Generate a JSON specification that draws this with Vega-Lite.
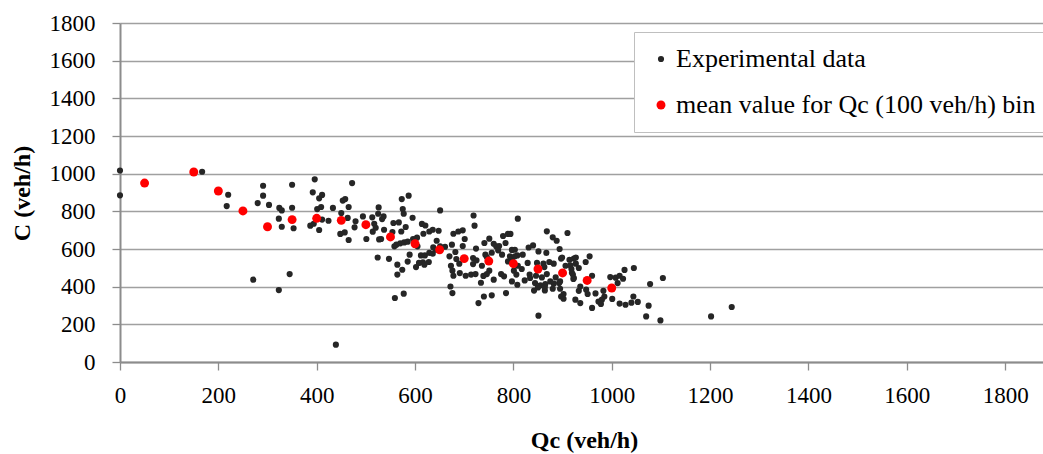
{
"$schema": "https://vega.github.io/schema/vega-lite/v6.json",
"autosize": {"type": "none"},
"padding": {"left": 120, "top": 23, "right": 0, "bottom": 92},
"width": 923,
"height": 339,
"background": "white",
"config": {"view": {"stroke": null}, "font": "Liberation Serif"},
"data": {"values": [
{"q":0,"c":1017,"s":"e"},{"q":0,"c":885,"s":"e"},{"q":167,"c":1010,"s":"e"},{"q":220,"c":888,"s":"e"},{"q":217,"c":828,"s":"e"},{"q":291,"c":936,"s":"e"},{"q":291,"c":883,"s":"e"},{"q":280,"c":844,"s":"e"},{"q":303,"c":834,"s":"e"},{"q":324,"c":818,"s":"e"},{"q":329,"c":805,"s":"e"},{"q":323,"c":761,"s":"e"},{"q":329,"c":718,"s":"e"},{"q":350,"c":941,"s":"e"},{"q":350,"c":819,"s":"e"},{"q":353,"c":710,"s":"e"},{"q":271,"c":437,"s":"e"},{"q":323,"c":382,"s":"e"},{"q":345,"c":467,"s":"e"},{"q":396,"c":970,"s":"e"},{"q":392,"c":901,"s":"e"},{"q":405,"c":869,"s":"e"},{"q":411,"c":887,"s":"e"},{"q":401,"c":812,"s":"e"},{"q":409,"c":823,"s":"e"},{"q":411,"c":756,"s":"e"},{"q":387,"c":724,"s":"e"},{"q":394,"c":734,"s":"e"},{"q":405,"c":701,"s":"e"},{"q":424,"c":750,"s":"e"},
{"q":433,"c":818,"s":"e"},{"q":450,"c":791,"s":"e"},{"q":453,"c":857,"s":"e"},{"q":458,"c":865,"s":"e"},{"q":465,"c":823,"s":"e"},{"q":448,"c":680,"s":"e"},{"q":457,"c":688,"s":"e"},{"q":465,"c":648,"s":"e"},{"q":472,"c":950,"s":"e"},{"q":463,"c":765,"s":"e"},{"q":477,"c":715,"s":"e"},{"q":479,"c":747,"s":"e"},{"q":494,"c":773,"s":"e"},{"q":501,"c":653,"s":"e"},{"q":513,"c":768,"s":"e"},{"q":517,"c":734,"s":"e"},{"q":514,"c":692,"s":"e"},{"q":520,"c":713,"s":"e"},{"q":526,"c":821,"s":"e"},{"q":525,"c":787,"s":"e"},{"q":533,"c":759,"s":"e"},{"q":536,"c":773,"s":"e"},{"q":527,"c":651,"s":"e"},{"q":524,"c":555,"s":"e"},{"q":531,"c":653,"s":"e"},{"q":537,"c":702,"s":"e"},{"q":547,"c":548,"s":"e"},{"q":554,"c":690,"s":"e"},{"q":558,"c":614,"s":"e"},{"q":556,"c":738,"s":"e"},{"q":567,"c":741,"s":"e"},{"q":573,"c":865,"s":"e"},{"q":587,"c":883,"s":"e"},{"q":575,"c":812,"s":"e"},{"q":577,"c":787,"s":"e"},{"q":572,"c":693,"s":"e"},{"q":581,"c":717,"s":"e"},{"q":564,"c":517,"s":"e"},{"q":564,"c":464,"s":"e"},{"q":574,"c":490,"s":"e"},{"q":559,"c":340,"s":"e"},{"q":577,"c":363,"s":"e"},{"q":562,"c":623,"s":"e"},{"q":570,"c":630,"s":"e"},{"q":578,"c":635,"s":"e"},{"q":585,"c":639,"s":"e"},{"q":585,"c":533,"s":"e"},{"q":589,"c":570,"s":"e"},{"q":595,"c":766,"s":"e"},{"q":596,"c":653,"s":"e"},{"q":604,"c":660,"s":"e"},{"q":605,"c":614,"s":"e"},{"q":602,"c":504,"s":"e"},{"q":608,"c":526,"s":"e"},{"q":439,"c":92,"s":"e"},
{"q":614,"c":733,"s":"e"},{"q":621,"c":725,"s":"e"},{"q":617,"c":681,"s":"e"},{"q":629,"c":693,"s":"e"},{"q":636,"c":702,"s":"e"},{"q":648,"c":697,"s":"e"},{"q":612,"c":566,"s":"e"},{"q":620,"c":566,"s":"e"},{"q":629,"c":579,"s":"e"},{"q":637,"c":609,"s":"e"},{"q":644,"c":644,"s":"e"},{"q":616,"c":529,"s":"e"},{"q":619,"c":517,"s":"e"},{"q":628,"c":531,"s":"e"},{"q":651,"c":805,"s":"e"},{"q":661,"c":612,"s":"e"},{"q":675,"c":623,"s":"e"},{"q":678,"c":681,"s":"e"},{"q":688,"c":693,"s":"e"},{"q":697,"c":699,"s":"e"},{"q":701,"c":653,"s":"e"},{"q":697,"c":616,"s":"e"},{"q":682,"c":584,"s":"e"},{"q":684,"c":547,"s":"e"},{"q":670,"c":561,"s":"e"},{"q":673,"c":511,"s":"e"},{"q":676,"c":485,"s":"e"},{"q":678,"c":458,"s":"e"},{"q":691,"c":472,"s":"e"},{"q":690,"c":522,"s":"e"},{"q":703,"c":458,"s":"e"},{"q":714,"c":464,"s":"e"},{"q":723,"c":467,"s":"e"},{"q":718,"c":552,"s":"e"},{"q":718,"c":520,"s":"e"},{"q":725,"c":540,"s":"e"},{"q":736,"c":511,"s":"e"},{"q":743,"c":570,"s":"e"},{"q":741,"c":632,"s":"e"},{"q":751,"c":655,"s":"e"},{"q":756,"c":580,"s":"e"},{"q":760,"c":628,"s":"e"},{"q":771,"c":616,"s":"e"},{"q":777,"c":570,"s":"e"},{"q":779,"c":669,"s":"e"},{"q":789,"c":680,"s":"e"},{"q":789,"c":534,"s":"e"},{"q":781,"c":455,"s":"e"},{"q":775,"c":467,"s":"e"},{"q":760,"c":437,"s":"e"},{"q":751,"c":485,"s":"e"},{"q":746,"c":467,"s":"e"},{"q":739,"c":457,"s":"e"},{"q":734,"c":421,"s":"e"},{"q":729,"c":313,"s":"e"},{"q":740,"c":348,"s":"e"},{"q":756,"c":354,"s":"e"},{"q":785,"c":366,"s":"e"},{"q":672,"c":401,"s":"e"},{"q":676,"c":366,"s":"e"},{"q":719,"c":778,"s":"e"},{"q":721,"c":724,"s":"e"},{"q":724,"c":602,"s":"e"},{"q":746,"c":557,"s":"e"},{"q":765,"c":614,"s":"e"},{"q":769,"c":593,"s":"e"},{"q":784,"c":632,"s":"e"},{"q":636,"c":575,"s":"e"},{"q":642,"c":596,"s":"e"},{"q":651,"c":614,"s":"e"},
{"q":809,"c":761,"s":"e"},{"q":794,"c":680,"s":"e"},{"q":868,"c":694,"s":"e"},{"q":880,"c":662,"s":"e"},{"q":888,"c":644,"s":"e"},{"q":910,"c":685,"s":"e"},{"q":894,"c":600,"s":"e"},{"q":797,"c":595,"s":"e"},{"q":803,"c":596,"s":"e"},{"q":808,"c":566,"s":"e"},{"q":819,"c":570,"s":"e"},{"q":831,"c":608,"s":"e"},{"q":840,"c":619,"s":"e"},{"q":793,"c":561,"s":"e"},{"q":797,"c":547,"s":"e"},{"q":851,"c":587,"s":"e"},{"q":867,"c":579,"s":"e"},{"q":809,"c":511,"s":"e"},{"q":801,"c":485,"s":"e"},{"q":806,"c":464,"s":"e"},{"q":817,"c":494,"s":"e"},{"q":829,"c":526,"s":"e"},{"q":797,"c":428,"s":"e"},{"q":808,"c":410,"s":"e"},{"q":823,"c":433,"s":"e"},{"q":833,"c":464,"s":"e"},{"q":834,"c":446,"s":"e"},{"q":848,"c":526,"s":"e"},{"q":861,"c":522,"s":"e"},{"q":863,"c":504,"s":"e"},{"q":873,"c":531,"s":"e"},{"q":882,"c":522,"s":"e"},{"q":897,"c":549,"s":"e"},{"q":844,"c":419,"s":"e"},{"q":842,"c":379,"s":"e"},{"q":858,"c":449,"s":"e"},{"q":868,"c":467,"s":"e"},{"q":865,"c":414,"s":"e"},{"q":855,"c":407,"s":"e"},{"q":864,"c":380,"s":"e"},{"q":882,"c":416,"s":"e"},{"q":880,"c":389,"s":"e"},{"q":886,"c":449,"s":"e"},{"q":893,"c":419,"s":"e"},{"q":895,"c":389,"s":"e"},{"q":897,"c":348,"s":"e"},{"q":902,"c":336,"s":"e"},{"q":899,"c":555,"s":"e"},{"q":906,"c":511,"s":"e"},{"q":914,"c":543,"s":"e"},{"q":916,"c":513,"s":"e"},{"q":923,"c":549,"s":"e"},{"q":927,"c":555,"s":"e"},{"q":927,"c":522,"s":"e"},{"q":919,"c":474,"s":"e"},{"q":923,"c":446,"s":"e"},{"q":933,"c":499,"s":"e"},{"q":947,"c":531,"s":"e"},{"q":955,"c":561,"s":"e"},{"q":960,"c":458,"s":"e"},{"q":936,"c":401,"s":"e"},{"q":933,"c":378,"s":"e"},{"q":948,"c":384,"s":"e"},{"q":951,"c":361,"s":"e"},{"q":926,"c":331,"s":"e"},{"q":936,"c":313,"s":"e"},{"q":960,"c":287,"s":"e"},{"q":967,"c":364,"s":"e"},{"q":973,"c":321,"s":"e"},{"q":851,"c":246,"s":"e"},{"q":803,"c":561,"s":"e"},{"q":846,"c":458,"s":"e"},{"q":850,"c":396,"s":"e"},{"q":864,"c":398,"s":"e"},{"q":875,"c":428,"s":"e"},{"q":895,"c":428,"s":"e"},{"q":902,"c":361,"s":"e"},{"q":918,"c":494,"s":"e"},{"q":921,"c":464,"s":"e"},{"q":922,"c":441,"s":"e"},
{"q":997,"c":451,"s":"e"},{"q":1008,"c":448,"s":"e"},{"q":1016,"c":458,"s":"e"},{"q":1023,"c":442,"s":"e"},{"q":1026,"c":489,"s":"e"},{"q":1045,"c":499,"s":"e"},{"q":1012,"c":419,"s":"e"},{"q":983,"c":378,"s":"e"},{"q":985,"c":348,"s":"e"},{"q":980,"c":331,"s":"e"},{"q":978,"c":308,"s":"e"},{"q":1001,"c":335,"s":"e"},{"q":1016,"c":310,"s":"e"},{"q":1028,"c":304,"s":"e"},{"q":1040,"c":315,"s":"e"},{"q":1053,"c":319,"s":"e"},{"q":1044,"c":348,"s":"e"},{"q":1075,"c":299,"s":"e"},{"q":1070,"c":242,"s":"e"},{"q":1078,"c":414,"s":"e"},{"q":1099,"c":221,"s":"e"},{"q":1104,"c":446,"s":"e"},{"q":1202,"c":242,"s":"e"},{"q":1244,"c":292,"s":"e"},
{"q":50,"c":950,"s":"m"},{"q":150,"c":1009,"s":"m"},{"q":200,"c":908,"s":"m"},{"q":250,"c":802,"s":"m"},{"q":300,"c":718,"s":"m"},{"q":350,"c":756,"s":"m"},{"q":400,"c":763,"s":"m"},{"q":450,"c":752,"s":"m"},{"q":500,"c":729,"s":"m"},{"q":550,"c":664,"s":"m"},{"q":600,"c":628,"s":"m"},{"q":650,"c":596,"s":"m"},{"q":700,"c":549,"s":"m"},{"q":750,"c":536,"s":"m"},{"q":800,"c":522,"s":"m"},{"q":850,"c":494,"s":"m"},{"q":900,"c":473,"s":"m"},{"q":950,"c":433,"s":"m"},{"q":1000,"c":393,"s":"m"}
]},
"mark": {"type": "circle", "opacity": 1},
"encoding": {
"x": {"field": "q", "type": "quantitative",
 "scale": {"domain": [0, 1877], "nice": false, "zero": false},
 "axis": {"values": [0,200,400,600,800,1000,1200,1400,1600,1800], "format": "d", "grid": false, "labelFlush": false,
  "title": "Qc (veh/h)", "titleFont": "Liberation Serif", "titleFontSize": 24, "titleFontWeight": "bold", "titleColor": "black",
  "titleX": 464, "titleY": 78, "titleBaseline": "middle", "titleAlign": "center",
  "labelFont": "Liberation Serif", "labelFontSize": 23, "labelColor": "black", "labelPadding": 14,
  "tickSize": 8, "tickColor": "#8c8c8c", "tickWidth": 1.3, "domainColor": "#8c8c8c", "domainWidth": 2}},
"y": {"field": "c", "type": "quantitative",
 "scale": {"domain": [0, 1800], "nice": false},
 "axis": {"values": [0,200,400,600,800,1000,1200,1400,1600,1800], "format": "d", "grid": true, "gridColor": "#a0a0a0", "gridWidth": 1.3,
  "title": "C (veh/h)", "titleFont": "Liberation Serif", "titleFontSize": 24, "titleFontWeight": "bold", "titleColor": "black",
  "titleX": -98, "titleY": 170, "titleAngle": 270, "titleAlign": "center", "titleBaseline": "middle",
  "labelFont": "Liberation Serif", "labelFontSize": 23, "labelColor": "black", "labelPadding": 17,
  "tickSize": 8, "tickColor": "#8c8c8c", "tickWidth": 1.3, "domainColor": "#8c8c8c", "domainWidth": 2}},
"color": {"field": "s", "type": "nominal",
 "scale": {"domain": ["e", "m"], "range": ["#262626", "#ff0000"]},
 "legend": {"title": null, "orient": "none", "legendX": 514, "legendY": 9, "direction": "vertical",
  "fillColor": "white", "strokeColor": "#bfbfbf", "padding": 14, "labelFont": "Liberation Serif", "labelFontSize": 26,
  "labelColor": "black", "rowPadding": 20, "symbolType": "circle", "symbolOffset": 0, "labelOffset": 2, "labelLimit": 600,
  "labelExpr": "datum.label == 'e' ? 'Experimental data' : 'mean value for Qc (100 veh/h) bin'"}},
"size": {"field": "s", "type": "nominal",
 "scale": {"domain": ["e", "m"], "range": [38, 80]},
 "legend": {"title": null, "orient": "none", "legendX": 514, "legendY": 9, "direction": "vertical",
  "fillColor": "white", "strokeColor": "#bfbfbf", "padding": 14, "labelFont": "Liberation Serif", "labelFontSize": 26,
  "labelColor": "black", "rowPadding": 20, "symbolType": "circle", "symbolOffset": 0, "labelOffset": 2, "labelLimit": 600,
  "labelExpr": "datum.label == 'e' ? 'Experimental data' : 'mean value for Qc (100 veh/h) bin'"}}
}
}
